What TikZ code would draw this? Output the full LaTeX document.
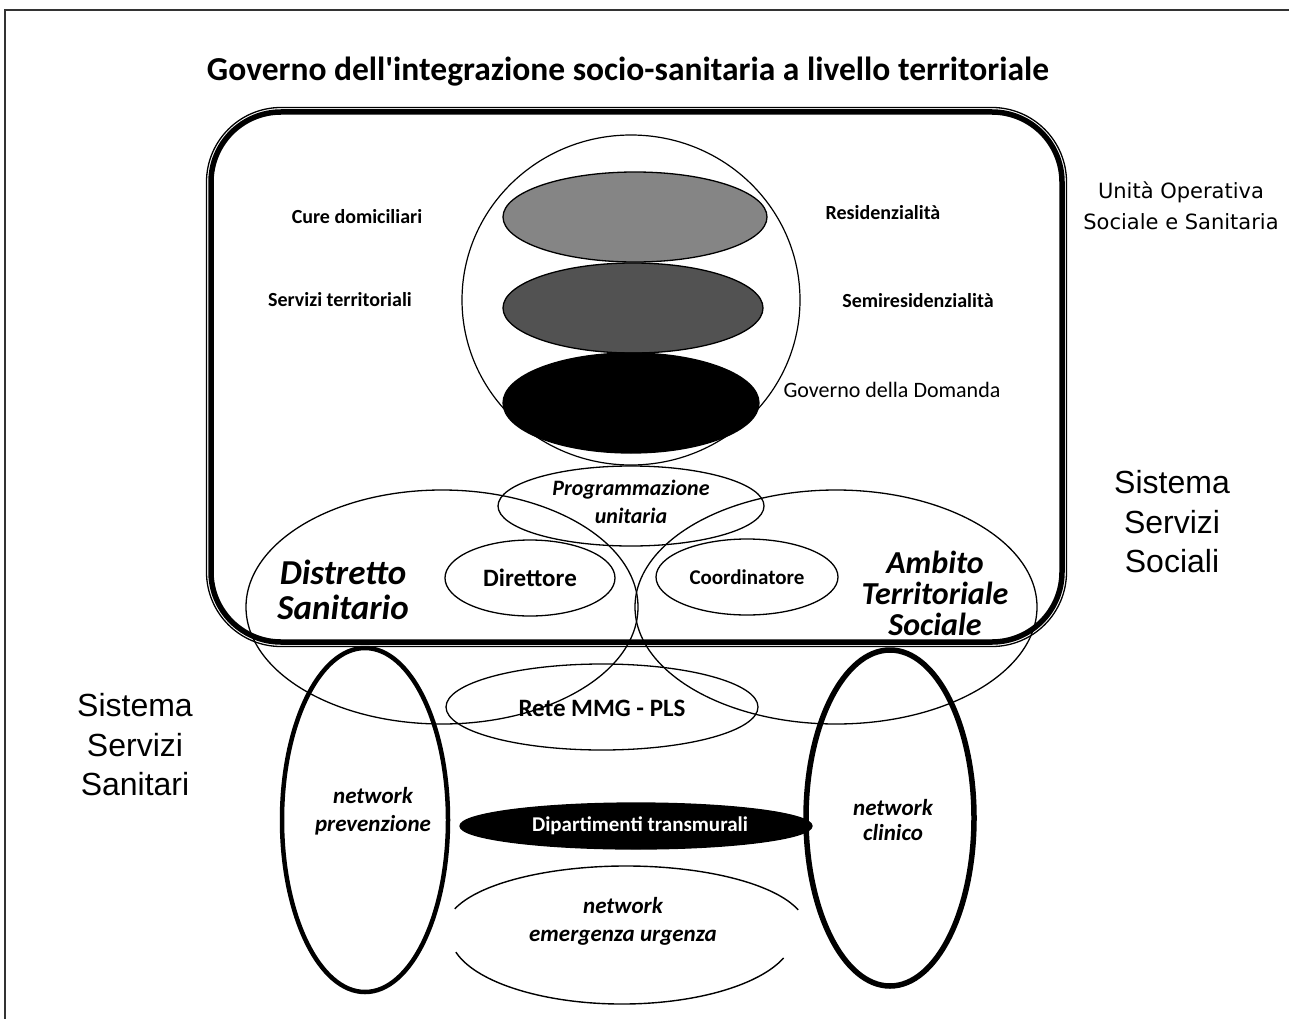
\documentclass[tikz,border=0pt]{standalone}
\usepackage{fontspec}
\setmainfont{Carlito}
\newfontfamily\arialf{Liberation Sans}
\newfontfamily\verdf{DejaVu Sans}
\usetikzlibrary{shapes.geometric}
\newcommand{\fsz}[1]{\fontsize{#1}{#1}\selectfont}
\begin{document}
\begin{tikzpicture}[x=1pt,y=-1pt,
  ell/.style={ellipse, draw, line width=1.3pt, inner sep=0pt},
  fatell/.style={ellipse, draw, line width=5pt, inner sep=0pt},
  lbl/.style={inner sep=0pt, align=center},
  sbold/.style={lbl, font=\fsz{20}\bfseries},
  bital/.style={lbl, font=\bfseries\itshape}
]
\useasboundingbox (0,0) rectangle (1289,1019);
% page frame
\coordinate (ftl) at (5,10);
\coordinate (ftr) at (1289,10);
\coordinate (fbl) at (5,1019);
\draw[line width=1.5pt, black!80] (ftr) -- (ftl) -- (fbl);

% title
\node[lbl, font=\fsz{33.5}\bfseries] (title) at (628,72) {Governo dell\textquotesingle integrazione socio-sanitaria a livello territoriale};

% rounded rectangle (double line)
\draw[line width=1.3pt, rounded corners=74.5pt] (206.5,107.5) rectangle (1066.5,646.5);
\draw[line width=5.5pt, rounded corners=70pt] (211,112) rectangle (1062,642);

% big circle and stacked ellipses
\node[ell, line width=1.2pt, minimum width=338pt, minimum height=330pt] (circ) at (631,300) {};
\node[ell, fill=black!48, minimum width=264pt, minimum height=90pt] (e1) at (635,217) {};
\node[ell, fill=black!68, minimum width=260pt, minimum height=90pt] (e2) at (633,308) {};
\node[ell, fill=black, minimum width=256pt, minimum height=100pt] (e3) at (631,403) {};

% labels in upper area
\node[sbold] (cure) at (357,217) {Cure domiciliari};
\node[sbold] (serv) at (340,300) {Servizi territoriali};
\node[sbold] (resid) at (883,213) {Residenzialità};
\node[sbold] (semi) at (918,301) {Semiresidenzialità};
\node[lbl, font=\fsz{22}] (gov) at (892,390) {Governo della Domanda};

\node[lbl, font=\verdf\fontsize{21}{31}\selectfont] (uoss) at (1181,206) {Unità Operativa\\Sociale e Sanitaria};
\node[lbl, font=\arialf\fontsize{32}{39.5}\selectfont] (sss) at (1172,522) {Sistema\\Servizi\\Sociali};
\node[lbl, font=\arialf\fontsize{32}{39.5}\selectfont] (ssn) at (135,745) {Sistema\\Servizi\\Sanitari};

% middle ellipses
\node[ell, minimum width=266pt, minimum height=80pt] (prog) at (631,506) {};
\node[ell, minimum width=392pt, minimum height=234pt] (dist) at (442,607) {};
\node[ell, minimum width=402pt, minimum height=234pt] (amb) at (836,607) {};
\node[ell, minimum width=170pt, minimum height=76pt] (dir) at (530,578) {};
\node[ell, minimum width=182pt, minimum height=76pt] (coord) at (747,577) {};
\node[ell, minimum width=312pt, minimum height=86pt] (rete) at (602,707) {};

\node[bital, font=\fontsize{22}{28}\selectfont\bfseries\itshape] (progt) at (631,502) {Programmazione\\unitaria};
\node[bital, font=\fontsize{35}{35}\selectfont\bfseries\itshape] (distt) at (343,590) {Distretto\\Sanitario};
\node[bital, font=\fontsize{32}{31}\selectfont\bfseries\itshape] (ambt) at (935,593) {Ambito\\Territoriale\\Sociale};
\node[lbl, font=\fsz{25}\bfseries] (dirt) at (530,578) {Direttore};
\node[lbl, font=\fsz{21}\bfseries] (coordt) at (747,577) {Coordinatore};
\node[lbl, font=\fsz{25}\bfseries] (retet) at (602,708) {Rete MMG - PLS};

% lower networks
\node[fatell, line width=4.5pt, minimum width=166pt, minimum height=344pt] (prev) at (365,820) {};
\node[fatell, line width=5.5pt, minimum width=168pt, minimum height=336pt] (clin) at (890,818) {};
\node[ell, fill=black, minimum width=352pt, minimum height=46pt] (dip) at (636,826) {};
\node[lbl, font=\fsz{21}\bfseries, text=white] (dipt) at (640,826) {Dipartimenti transmurali};

\node[inner sep=0pt, minimum width=350pt, minimum height=138pt] (emerg) at (626,934) {};
\coordinate (emtop) at ([yshift=6pt]emerg.center);
\coordinate (embot) at ([xshift=-4pt]emerg.center);
\draw[line width=1.4pt] ([shift={(198:180 and 62)}]emtop) arc[start angle=198, end angle=343, x radius=180, y radius=62];
\draw[line width=1.4pt] ([shift={(165:172 and 70)}]embot) arc[start angle=165, end angle=20, x radius=172, y radius=70];

\node[bital, font=\fontsize{23}{28}\selectfont\bfseries\itshape] (prevt) at (373,811) {network\\prevenzione};
\node[bital, font=\fontsize{23}{25}\selectfont\bfseries\itshape] (clint) at (893,820) {network\\clinico};
\node[bital, font=\fontsize{23}{28}\selectfont\bfseries\itshape] (emergt) at (623,921) {network\\emergenza urgenza};
\end{tikzpicture}
\end{document}
